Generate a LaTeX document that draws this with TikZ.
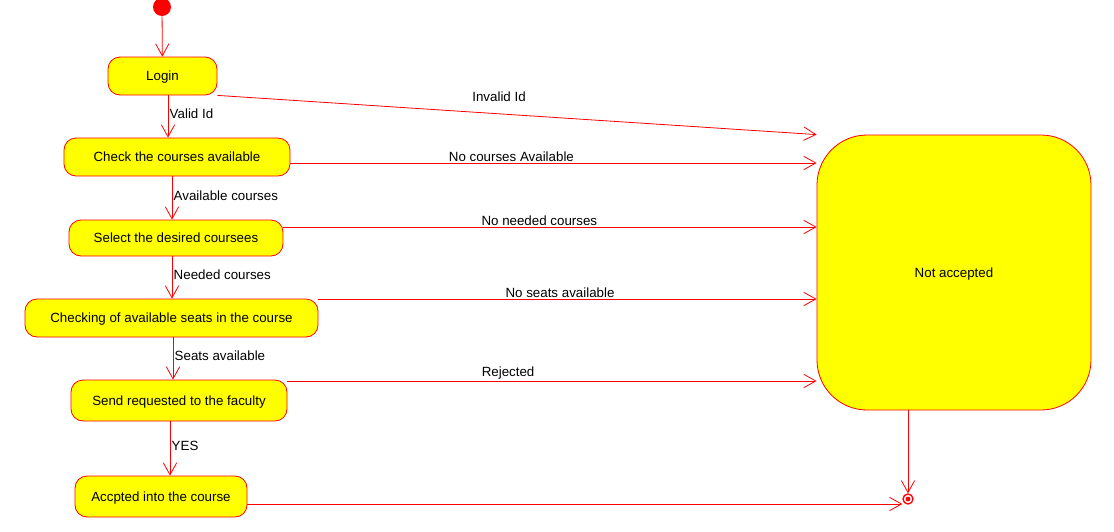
\documentclass[tikz,border=0pt]{standalone}
\usepackage{fontspec}
\setmainfont{Liberation Sans}
\usetikzlibrary{arrows.meta}
\definecolor{stateyellow}{RGB}{255,255,0}

\begin{document}
\begin{tikzpicture}[x=0.75pt,y=-0.75pt,
        font=\fontsize{10}{12}\selectfont,
        flow/.style={draw=red,line width=0.6pt,-{Straight Barb[length=9pt,width=10pt]}},
        action/.style={draw=red,fill=stateyellow,line width=0.6pt,rounded corners=9pt,inner sep=0pt,text height=8pt,text depth=1pt},
        lbl/.style={inner sep=1pt}]
            \useasboundingbox (0,0) rectangle (1114,532);
            \node[circle,fill=red,minimum size=13.5pt,inner sep=0pt] (start) at (162,7) {};
            \node[action,minimum width=81.75pt,minimum height=28.5pt] (login) at (162.5,76) {Login};
            \node[action,minimum width=169.5pt,minimum height=28.5pt] (check) at (177,157) {Check the courses available};
            \node[action,minimum width=160.5pt,minimum height=27pt] (select) at (176,238) {Select the desired coursees};
            \node[action,minimum width=219.75pt,minimum height=28.5pt] (seats) at (171.5,318) {Checking of available seats in the course};
            \node[action,minimum width=162pt,minimum height=30.75pt] (send) at (179,400.5) {Send requested to the faculty};
            \node[action,minimum width=129pt,minimum height=30.75pt] (accepted) at (161,496.5) {Accpted into the course};
            \node[action,rounded corners=37.5pt,minimum width=205.5pt,minimum height=206.25pt] (notacc) at (954,272.5) {Not accepted};
            \node[circle,draw=red,fill=white,line width=1pt,minimum size=7.5pt,inner sep=0pt] (final) at (908,499) {};
            \fill[red] (final) circle (1.8pt);
            \draw[flow] (start) -- (login);
            \foreach \a/\b/\x/\txt in {login/check/168/Valid Id, check/select/172/Available courses, select/seats/172/Needed courses, seats/send/173/Seats available, send/accepted/170/YES} {
                \draw[flow] (\a.south -| \x,0) -- (\b.north -| \x,0) node[midway,right,lbl,yshift=2pt] {\txt};
            }
            \draw[flow] (login.south east) -- (notacc.north west) node[pos=.47,above=8pt,lbl] {Invalid Id};
            \foreach \src/\y/\p/\txt in {check/163/.42/No courses Available, select/227/.48/No needed courses, seats/299/.485/No seats available, send/381/.417/Rejected} {
                \draw[flow] (\src.east |- 0,\y) -- (notacc.west |- 0,\y) node[pos=\p,above,lbl] {\txt};
            }
            \draw[flow] (final |- notacc.south) -- (final);
            \draw[flow] (accepted.east |- 0,504) -- (final.west |- 0,504);
        \end{tikzpicture}
\end{document}
